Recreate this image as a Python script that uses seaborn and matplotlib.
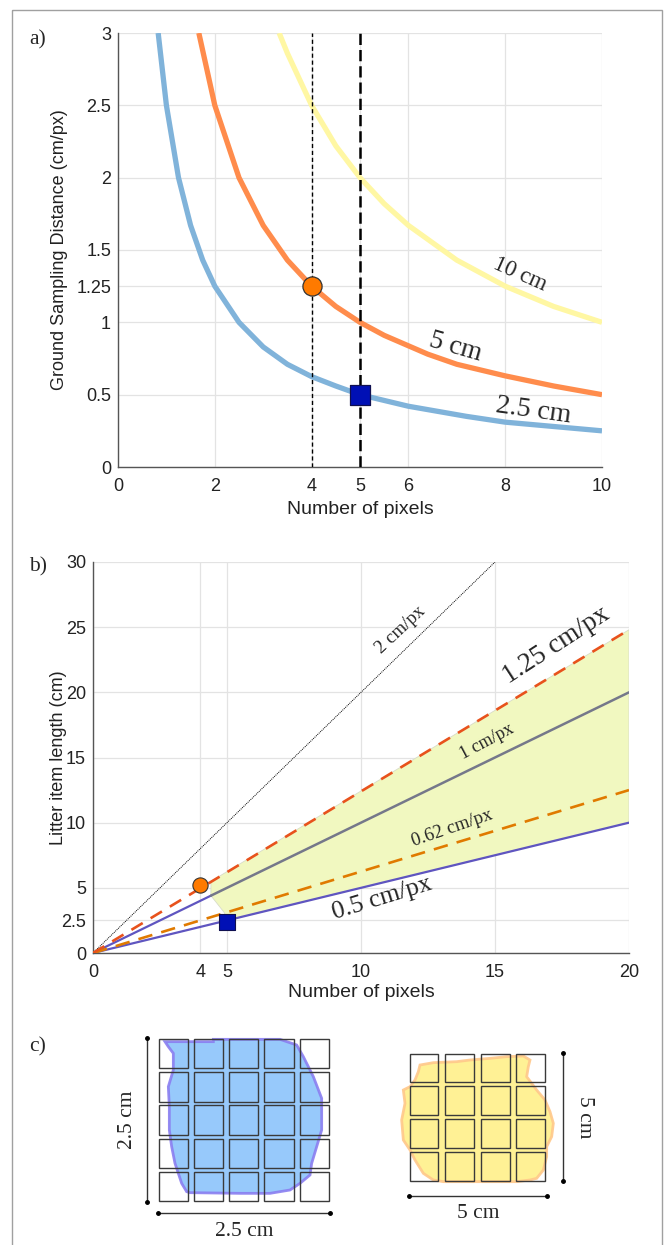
import matplotlib
matplotlib.use("Agg")
import matplotlib.pyplot as plt
import matplotlib.patches as mpatches
from matplotlib import font_manager
import numpy as np
import pandas as pd
import seaborn as sns

# ---------------- data ----------------
# Panel a: GSD (cm/px) vs number of pixels for three litter sizes
a_x_25 = [0.83, 1.0, 1.25, 1.5, 1.75, 2.0, 2.5, 3.0, 3.5, 4.0, 4.5, 5.0, 6.0, 7.2, 8.0, 9.0, 10.0]
a_y_25 = [3.0, 2.5, 2.0, 1.67, 1.43, 1.25, 1.0, 0.83, 0.71, 0.625, 0.56, 0.5, 0.42, 0.35, 0.31, 0.28, 0.25]
a_x_5 = [1.67, 2.0, 2.5, 3.0, 3.5, 4.0, 4.5, 5.0, 5.5, 6.4, 7.0, 8.0, 9.0, 10.0]
a_y_5 = [3.0, 2.5, 2.0, 1.67, 1.43, 1.25, 1.11, 1.0, 0.91, 0.78, 0.71, 0.63, 0.56, 0.5]
a_x_10 = [3.33, 3.5, 4.0, 4.5, 5.0, 5.5, 6.0, 7.0, 8.0, 9.0, 10.0]
a_y_10 = [3.0, 2.86, 2.5, 2.22, 2.0, 1.82, 1.67, 1.43, 1.25, 1.11, 1.0]
a_curve_labels = ["2.5 cm", "5 cm", "10 cm"]
a_vlines = [4, 5]
a_circle = (4, 1.25)
a_square = (5, 0.5)
a_xticks = [0, 2, 4, 5, 6, 8, 10]
a_yticks = [0, 0.5, 1, 1.25, 1.5, 2, 2.5, 3]
a_ytick_labels = ["0", "0.5", "1", "1.25", "1.5", "2", "2.5", "3"]

# Panel b: litter item length vs number of pixels (lines of constant GSD)
b_x_2 = [0, 15];    b_y_2 = [0, 30]
b_x_125 = [0, 20];  b_y_125 = [0, 24.8]
b_x_1a = [0, 4.4];  b_y_1a = [0, 4.4]
b_x_1b = [4.4, 20]; b_y_1b = [4.4, 20]
b_x_062 = [0, 20];  b_y_062 = [0, 12.5]
b_x_05 = [0, 20];   b_y_05 = [0, 10]
b_fill_x = [4.4, 4.4, 4.9, 5.0, 20, 20]
b_fill_y = [5.5, 4.4, 3.1, 2.5, 10, 24.8]
b_circle = (4, 5.25)
b_square = (5, 2.4)
b_line_labels = ["2 cm/px", "1.25 cm/px", "1 cm/px", "0.62 cm/px", "0.5 cm/px"]
b_xticks = [0, 4, 5, 10, 15, 20]
b_yticks = [0, 2.5, 5, 10, 15, 20, 25, 30]
b_ytick_labels = ["0", "2.5", "5", "10", "15", "20", "25", "30"]

# Panel c: pixel grids
c_left_grid = (5, 5)   # columns, rows
c_right_grid = (4, 4)
c_left_label = "2.5 cm"
c_right_label = "5 cm"

# ---------------- style ----------------
sns.set_theme(style="white")
avail = {f.name for f in font_manager.fontManager.ttflist}
SANS = ["Liberation Sans Narrow", "Liberation Sans", "DejaVu Sans"]
SANS = [f for f in SANS if f in avail] + ["DejaVu Sans"]
SERIF = ["Liberation Serif", "DejaVu Serif"]
plt.rcParams["font.family"] = SANS
LABEL_FONT = ["Liberation Sans", "DejaVu Sans"]

W, H = 665, 1245
fig = plt.figure(figsize=(W / 100, H / 100), dpi=100)

def px_axes(x0, y0, x1, y1, **kw):
    return fig.add_axes([x0 / W, 1 - y1 / H, (x1 - x0) / W, (y1 - y0) / H], **kw)

# background axes for border and panel c (pixel coordinates)
axc = px_axes(0, 0, W, H)
axc.set_xlim(0, W)
axc.set_ylim(H, 0)
axc.axis("off")
axc.add_patch(mpatches.Rectangle((12, 10), 650, 1240, fill=False, ec="#a0a0a0", lw=1.0))

GRID = "#e3e3e3"
SPINE = "#555555"

def style_axes(ax, xticks, yticks, ylabels, xlim, ylim):
    ax.set_xlim(*xlim)
    ax.set_ylim(*ylim)
    ax.set_xticks(xticks)
    ax.set_xticklabels([str(t) for t in xticks])
    ax.set_yticks(yticks)
    ax.set_yticklabels(ylabels)
    ax.grid(True, color=GRID, lw=0.9)
    ax.set_axisbelow(True)
    for s in ["top", "right"]:
        ax.spines[s].set_visible(False)
    for s in ["left", "bottom"]:
        ax.spines[s].set_color(SPINE)
        ax.spines[s].set_linewidth(1.0)
    ax.tick_params(direction="in", length=3, width=0.8, color=SPINE, labelsize=13,
                   labelcolor="#222222", pad=5)
    ax.tick_params(axis="x", pad=8)
    ax.set_facecolor("white")

# ---------------- panel a ----------------
axa = px_axes(118, 33, 602, 467)
style_axes(axa, a_xticks, a_yticks, a_ytick_labels, (0, 10), (0, 3))
for xs, ys, col in [(a_x_10, a_y_10, "#fff7a3"), (a_x_5, a_y_5, "#ff8c4c"), (a_x_25, a_y_25, "#80b3da")]:
    sns.lineplot(x=xs, y=ys, ax=axa, color=col, lw=3.8, sort=False, estimator=None,
                 solid_capstyle="butt", clip_on=True)
axa.axvline(a_vlines[0], color="black", lw=1.0, ls=(0, (3, 2)), zorder=3)
axa.axvline(a_vlines[1], color="black", lw=1.8, ls=(0, (4.5, 2)), zorder=3)
sns.scatterplot(x=[a_circle[0]], y=[a_circle[1]], ax=axa, marker="o", s=190,
                color="#ff7a00", edgecolor="#333333", linewidth=0.9, zorder=5)
sns.scatterplot(x=[a_square[0]], y=[a_square[1]], ax=axa, marker="s", s=220,
                color="#0010b5", edgecolor="#101050", linewidth=0.9, zorder=5)
axa.text(8.58, 0.39, a_curve_labels[0], family=SERIF, fontsize=20, rotation=-8,
         ha="center", va="center")
axa.text(6.98, 0.83, a_curve_labels[1], family=SERIF, fontsize=19.5, rotation=-16,
         ha="center", va="center")
axa.text(8.31, 1.33, a_curve_labels[2], family=SERIF, fontsize=16.5, rotation=-24,
         ha="center", va="center")
axa.set_xlabel("Number of pixels", family=LABEL_FONT, fontsize=14, color="#222222", labelpad=4)
axa.set_ylabel("Ground Sampling Distance (cm/px)", family=LABEL_FONT, fontsize=13,
               color="#222222")
axa.yaxis.set_label_coords((68 - 118) / 484, 0.5)

# ---------------- panel b ----------------
axb = px_axes(93, 562, 629, 953)
style_axes(axb, b_xticks, b_yticks, b_ytick_labels, (0, 20), (0, 30))
axb.fill(b_fill_x, b_fill_y, color="#f1f8c0", ec="#d8dcc8", lw=0.6, zorder=1)
sns.lineplot(x=b_x_2, y=b_y_2, ax=axb, color="black", lw=0.7, ls=(0, (1, 1)), zorder=2)
sns.lineplot(x=b_x_05, y=b_y_05, ax=axb, color="#5f55c0", lw=1.6, zorder=2)
sns.lineplot(x=b_x_1a, y=b_y_1a, ax=axb, color="#5f55c0", lw=1.6, zorder=2)
sns.lineplot(x=b_x_1b, y=b_y_1b, ax=axb, color="#75788a", lw=1.8, zorder=2)
sns.lineplot(x=b_x_062, y=b_y_062, ax=axb, color="#e07a00", lw=1.9, ls=(0, (5.5, 3.5)), zorder=3)
sns.lineplot(x=b_x_125, y=b_y_125, ax=axb, color="#e8521c", lw=1.9, ls=(0, (5, 3.5)), zorder=3)
sns.scatterplot(x=[b_circle[0]], y=[b_circle[1]], ax=axb, marker="o", s=120,
                color="#ff7a00", edgecolor="#333333", linewidth=0.8, zorder=5)
sns.scatterplot(x=[b_square[0]], y=[b_square[1]], ax=axb, marker="s", s=120,
                color="#0010b5", edgecolor="#101050", linewidth=0.8, zorder=5)
axb.text(11.46, 24.8, b_line_labels[0], family=SERIF, fontsize=13.5, rotation=43,
         ha="center", va="center")
axb.text(17.3, 23.6, b_line_labels[1], family=SERIF, fontsize=19.5, rotation=33,
         ha="center", va="center")
axb.text(14.7, 16.2, b_line_labels[2], family=SERIF, fontsize=13, rotation=28,
         ha="center", va="center")
axb.text(13.4, 9.6, b_line_labels[3], family=SERIF, fontsize=13.5, rotation=19,
         ha="center", va="center")
axb.text(10.8, 4.2, b_line_labels[4], family=SERIF, fontsize=18.5, rotation=17,
         ha="center", va="center")
axb.set_xlabel("Number of pixels", family=LABEL_FONT, fontsize=14, color="#222222", labelpad=2)
axb.set_ylabel("Litter item length (cm)", family=LABEL_FONT, fontsize=13,
               color="#222222")
axb.yaxis.set_label_coords((67 - 93) / 536, 0.5)

# ---------------- panel c ----------------
def draw_grid(ax, ncols, nrows, x0, y0, pitch_x, pitch_y, size):
    for i in range(ncols):
        for j in range(nrows):
            ax.add_patch(mpatches.Rectangle((x0 + i * pitch_x, y0 + j * pitch_y), size, size,
                                            fill=False, ec="#3a3a3a", lw=1.0, zorder=3))

def dim_line(ax, p0, p1):
    ax.plot([p0[0], p1[0]], [p0[1], p1[1]], color="#333333", lw=1.0, zorder=3)
    ax.plot([p0[0], p1[0]], [p0[1], p1[1]], ls="none", marker="o", ms=2.5, color="black", zorder=3)

# blob outlines (shape of the sketched litter items)
blue_blob = np.array([(75, 65), (220, 65), (220, 58), (420, 58), (470, 75), (490, 110), (520, 170),
                      (545, 235), (545, 330), (530, 380), (515, 430), (510, 465), (480, 490),
                      (450, 510), (390, 520), (300, 520), (150, 518), (140, 515), (125, 490),
                      (105, 430), (95, 380), (88, 330), (88, 260), (85, 200), (100, 150),
                      (100, 100), (85, 80)], float)
blue_blob = blue_blob / 3 + np.array([140, 1020])
yellow_blob = np.array([(90, 75), (130, 68), (200, 65), (240, 60), (300, 55), (350, 50), (400, 48),
                        (420, 60), (415, 80), (410, 110), (440, 150), (465, 180), (480, 215),
                        (490, 250), (485, 290), (470, 320), (470, 350), (460, 390), (440, 415),
                        (420, 420), (380, 425), (300, 425), (230, 425), (160, 425), (130, 420),
                        (100, 400), (75, 360), (60, 330), (40, 300), (35, 240), (45, 190),
                        (40, 150), (60, 140), (75, 120), (85, 95)], float)
yellow_blob = yellow_blob / 3 + np.array([390, 1040])

axc.add_patch(mpatches.Polygon(blue_blob, closed=True, fc="#8cc4fb", ec="#8a7ef0", lw=2.0,
                               alpha=0.9, zorder=2))
axc.add_patch(mpatches.Polygon(yellow_blob, closed=True, fc="#fff08a", ec="#ffc88a", lw=2.0,
                               alpha=0.9, zorder=2))
draw_grid(axc, c_left_grid[0], c_left_grid[1], 158.5, 1039, 35.3, 33.2, 29.3)
draw_grid(axc, c_right_grid[0], c_right_grid[1], 409.5, 1053.5, 35.6, 32.8, 28.8)
dim_line(axc, (147, 1038), (147, 1202))
dim_line(axc, (158, 1213), (330, 1213))
dim_line(axc, (563, 1053), (563, 1181))
dim_line(axc, (409, 1196), (547, 1196))
axc.text(244, 1231, c_left_label, family=SERIF, fontsize=15.5, ha="center", va="center")
axc.text(127, 1120, c_left_label, family=SERIF, fontsize=15.5, ha="center", va="center", rotation=90)
axc.text(478, 1213, c_right_label, family=SERIF, fontsize=15.5, ha="center", va="center")
axc.text(585, 1117, c_right_label, family=SERIF, fontsize=15.5, ha="center", va="center", rotation=-90)

# panel letters
for lbl, (x, y) in zip(["a)", "b)", "c)"], [(38, 40), (38, 567), (38, 1047)]):
    fig.text(x / W, 1 - y / H, lbl, family=SERIF, fontsize=15.5, ha="center", va="center")

fig.savefig("out.png", dpi=100)
